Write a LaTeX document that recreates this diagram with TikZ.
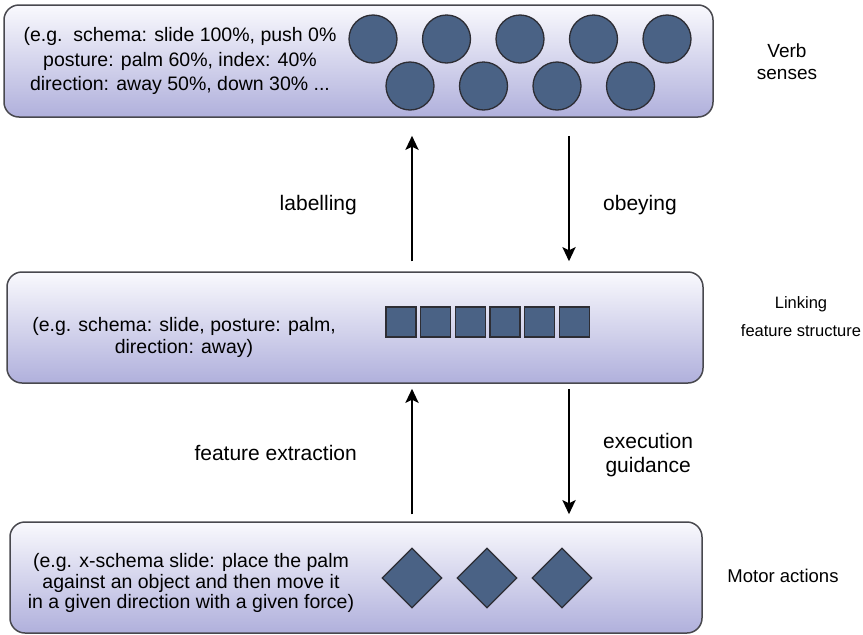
\documentclass[tikz,border=0pt]{standalone}
\usepackage{fontspec}
\setmainfont{Liberation Sans}
\usetikzlibrary{shapes.geometric,arrows.meta}
\definecolor{boxtop}{RGB}{249,249,253}
\definecolor{boxbot}{RGB}{176,176,220}
\definecolor{boxline}{RGB}{72,72,78}
\definecolor{unitfill}{RGB}{74,98,133}
\definecolor{unitline}{RGB}{45,45,52}
\begin{document}
\begin{tikzpicture}[x=1pt,y=-1pt,
  layerbox/.style={draw=boxline, line width=1.5pt, rounded corners=15pt,
    top color=boxtop, bottom color=boxbot, inner sep=0pt},
  unit/.style={draw=unitline, fill=unitfill, line width=1.3pt, inner sep=0pt},
  blob/.style={unit, circle, minimum size=48pt},
  cell/.style={unit, rectangle, minimum width=30pt, minimum height=30pt},
  gem/.style={unit, diamond, minimum width=60pt, minimum height=60pt},
  boxtext/.style={align=center, inner sep=0pt},
  sidetext/.style={align=center, inner sep=0pt},
  flow/.style={line width=2.6pt, -{Stealth[length=14pt,width=13pt,inset=3pt]}},
]
\useasboundingbox (0,0) rectangle (863,635);

% layer boxes
\node[layerbox, minimum width=709pt, minimum height=112pt] (top) at (358.5,61) {};
\node[layerbox, minimum width=696pt, minimum height=111pt] (mid) at (355,327.5) {};
\node[layerbox, minimum width=692pt, minimum height=111pt] (bot) at (356,577.5) {};

% texts inside boxes
\node[boxtext, font=\fontsize{19.5pt}{24.7pt}\selectfont] (toptext) at (180,61)
  {(e.g.\ \ schema: slide 100\%, push 0\%\\posture: palm 60\%, index: 40\%\\direction: away 50\%, down 30\% ...};
\node[boxtext, font=\fontsize{19.5pt}{22pt}\selectfont] (midtext) at (184,337)
  {(e.g. schema: slide, posture: palm,\\direction: away)};
\node[boxtext, font=\fontsize{19.5pt}{20.5pt}\selectfont] (bottext) at (191,583)
  {(e.g. x-schema slide: place the palm\\against an object and then move it\\in a given direction with a given force)};

% verb sense circles
\node[blob] (c1) at (373,39) {};
\node[blob] (c2) at (446.5,39) {};
\node[blob] (c3) at (520,39) {};
\node[blob] (c4) at (593.5,39) {};
\node[blob] (c5) at (667,39) {};
\node[blob] (c6) at (410,86) {};
\node[blob] (c7) at (483.5,86) {};
\node[blob] (c8) at (557,86) {};
\node[blob] (c9) at (630.5,86) {};

% linking feature squares
\node[cell] (s1) at (401,322) {};
\node[cell] (s2) at (435.7,322) {};
\node[cell] (s3) at (470.4,322) {};
\node[cell] (s4) at (505.1,322) {};
\node[cell] (s5) at (539.8,322) {};
\node[cell] (s6) at (574.5,322) {};

% motor action diamonds
\node[gem] (d1) at (412,578) {};
\node[gem] (d2) at (487,578) {};
\node[gem] (d3) at (562,578) {};

% side labels
\node[sidetext, font=\fontsize{19pt}{22pt}\selectfont] (lverb) at (787,62) {Verb\\senses};
\node[sidetext, font=\fontsize{16.5pt}{28pt}\selectfont] (llink) at (801,317) {Linking\\feature structure};
\node[sidetext, font=\fontsize{18.5pt}{22pt}\selectfont] (lmotor) at (783,576) {Motor actions};

% arrows
\coordinate (cu) at (412,0);
\coordinate (cd) at (569,0);
\draw[flow, shorten <=10pt, shorten >=18pt] (mid.north -| cu) -- (top.south -| cu);
\draw[flow, shorten <=18pt, shorten >=10pt] (top.south -| cd) -- (mid.north -| cd);
\draw[flow, shorten <=7pt, shorten >=5pt] (bot.north -| cu) -- (mid.south -| cu);
\draw[flow, shorten <=5pt, shorten >=7pt] (mid.south -| cd) -- (bot.north -| cd);

% arrow labels
\node[anchor=east, inner sep=0pt, font=\fontsize{21pt}{24pt}\selectfont] (llab) at (357,205) {labelling};
\node[anchor=west, inner sep=0pt, font=\fontsize{21pt}{24pt}\selectfont] (lobey) at (603,205) {obeying};
\node[anchor=east, inner sep=0pt, font=\fontsize{21pt}{24pt}\selectfont] (lfeat) at (357,453) {feature extraction};
\node[anchor=west, align=center, inner sep=0pt, font=\fontsize{21pt}{24pt}\selectfont] (lexec) at (603,455) {execution\\guidance};
\end{tikzpicture}
\end{document}
